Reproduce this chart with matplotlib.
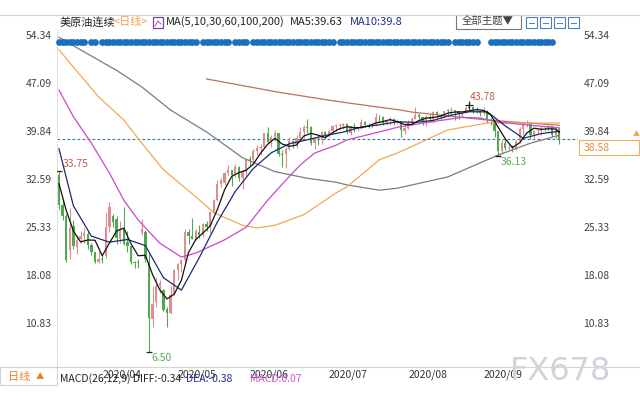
import numpy as np
import matplotlib.pyplot as plt
import matplotlib.transforms as mtransforms
from matplotlib.patches import Rectangle
from matplotlib.lines import Line2D

plt.rcParams['font.family'] = ['Noto Sans CJK SC', 'DejaVu Sans']

# daily candles, 2020/03/16 .. 2020/10/01 (one entry per trading day)
opens = [33.2, 28.6, 27.0, 21.9, 25.5, 22.3, 23.6, 24.0, 24.3, 22.6,
         21.5, 20.1, 20.5, 20.9, 25.3, 27.0, 26.5, 23.6, 25.1, 23.0,
         22.4, 20.1, 19.9, 24.5, 24.6, 20.0, 11.5, 14.0, 16.5, 15.8,
         12.9, 12.4, 15.1, 18.8, 19.7, 20.4, 24.6, 24.0, 23.5, 24.6,
         24.2, 25.8, 25.3, 27.6, 29.4, 31.9, 32.0, 33.5, 33.9, 33.3,
         34.4, 32.8, 33.7, 35.5, 35.4, 36.8, 37.3, 37.4, 39.6, 38.2,
         38.9, 39.6, 36.3, 36.3, 37.1, 38.4, 37.9, 38.8, 39.7, 40.5,
         40.4, 38.0, 38.7, 38.5, 39.7, 39.3, 39.8, 40.6, 40.6, 40.6,
         40.9, 39.6, 40.5, 40.1, 40.3, 41.2, 40.7, 40.6, 40.8, 42.0,
         41.9, 41.1, 41.3, 41.6, 41.0, 41.3, 39.9, 40.3, 41.0, 41.7,
         42.2, 42.0, 41.2, 41.9, 41.6, 42.7, 42.2, 42.0, 42.9, 42.9,
         42.9, 42.8, 42.3, 42.6, 43.4, 43.4, 43.0, 42.9, 42.6, 42.8,
         41.5, 41.4, 39.8, 36.8, 38.1, 37.3, 37.3, 37.3, 38.3, 40.2,
         41.0, 41.1, 39.3, 39.8, 39.9, 40.3, 40.3, 40.6, 39.3, 40.2]
highs = [33.75, 29.4, 27.3, 28.2, 26.4, 24.1, 24.8, 25.2, 24.7, 22.9,
         21.6, 21.7, 21.1, 27.4, 29.1, 27.3, 27.0, 26.3, 28.4, 24.7,
         22.5, 20.2, 20.5, 26.6, 24.9, 21.3, 16.5, 17.6, 17.4, 16.0,
         13.3, 16.4, 19.0, 19.9, 20.5, 25.0, 25.0, 26.7, 25.0, 25.7,
         26.0, 26.3, 27.6, 29.5, 32.5, 32.7, 33.6, 34.7, 34.0, 34.8,
         34.5, 34.0, 35.6, 36.0, 37.1, 37.8, 37.9, 39.6, 40.4, 39.2,
         40.0, 39.6, 37.0, 37.5, 38.9, 38.5, 39.3, 40.4, 40.8, 41.6,
         40.6, 38.9, 39.1, 39.8, 39.9, 40.0, 40.8, 40.9, 41.0, 41.0,
         41.0, 40.6, 41.0, 40.5, 41.6, 41.3, 41.0, 41.0, 42.5, 42.2,
         42.1, 41.5, 41.9, 41.8, 41.6, 41.4, 40.7, 41.5, 41.9, 43.5,
         42.5, 42.0, 42.2, 42.4, 42.8, 42.9, 42.4, 42.9, 43.2, 43.4,
         43.0, 42.9, 42.9, 43.6, 43.78, 43.6, 43.4, 43.0, 43.4, 43.0,
         41.8, 41.6, 39.9, 38.5, 38.6, 37.9, 37.7, 38.5, 40.5, 41.2,
         41.5, 41.2, 40.0, 40.2, 40.6, 40.4, 40.8, 40.6, 40.5, 40.4]
lows = [28.0, 26.4, 20.1, 20.5, 22.0, 21.3, 22.9, 22.9, 22.0, 21.1,
        19.9, 19.9, 19.9, 20.6, 24.6, 25.3, 22.8, 22.9, 22.6, 21.6,
        19.8, 19.2, 19.2, 24.1, 20.0, 6.50, 10.3, 13.3, 15.3, 12.7,
        10.3, 12.2, 15.0, 17.3, 18.6, 20.1, 22.8, 23.5, 23.3, 23.7,
        23.8, 24.8, 24.4, 27.4, 29.3, 31.4, 31.7, 33.2, 31.5, 32.9,
        32.3, 31.1, 33.2, 34.5, 35.0, 36.2, 36.2, 37.2, 38.0, 37.4,
        38.3, 36.0, 34.4, 34.2, 37.0, 37.2, 37.3, 38.5, 38.8, 39.6,
        37.8, 37.1, 37.7, 37.9, 38.7, 38.9, 39.6, 39.9, 40.0, 40.2,
        39.4, 39.3, 39.7, 39.8, 40.2, 40.5, 40.3, 40.3, 40.6, 41.1,
        40.8, 40.7, 40.8, 40.8, 40.9, 39.0, 39.4, 40.2, 40.8, 41.6,
        41.7, 40.8, 40.6, 41.2, 41.0, 41.8, 41.6, 41.8, 42.3, 42.3,
        41.5, 41.6, 42.0, 42.5, 42.8, 42.5, 42.6, 42.1, 42.3, 41.0,
        40.8, 39.0, 36.13, 36.4, 37.0, 36.9, 36.7, 36.9, 38.0, 39.3,
        40.4, 38.6, 38.5, 39.4, 39.3, 39.9, 39.9, 38.9, 38.6, 37.9]
closes = [28.70, 26.95, 20.37, 25.22, 22.43, 23.36, 24.01, 24.49, 22.60, 21.51,
          20.09, 20.48, 20.31, 25.32, 28.34, 26.08, 23.63, 25.09, 22.76, 22.41,
          20.11, 19.87, 19.87, 25.03, 20.43, 11.57, 13.78, 16.50, 16.94, 12.78,
          12.34, 15.06, 18.84, 19.78, 20.39, 24.56, 23.99, 23.55, 24.74, 24.14,
          25.78, 25.29, 27.56, 29.43, 31.82, 32.50, 33.49, 33.92, 33.25, 34.35,
          32.81, 33.71, 35.49, 35.44, 36.81, 37.29, 37.41, 39.55, 38.19, 38.94,
          39.60, 36.34, 36.26, 37.12, 38.38, 37.96, 38.84, 39.75, 40.46, 40.37,
          38.01, 38.72, 38.49, 39.70, 39.27, 39.82, 40.65, 40.63, 40.62, 40.90,
          39.62, 40.55, 40.10, 40.29, 41.20, 40.75, 40.59, 40.81, 41.96, 41.90,
          41.07, 41.29, 41.60, 41.04, 41.27, 39.92, 40.27, 41.01, 41.70, 42.19,
          41.95, 41.22, 41.94, 41.61, 42.67, 42.24, 42.01, 42.89, 42.89, 42.93,
          42.82, 42.34, 42.62, 43.35, 43.39, 43.04, 42.97, 42.61, 42.76, 41.51,
          41.37, 39.77, 36.76, 38.05, 37.30, 37.33, 37.26, 38.28, 40.16, 40.97,
          41.11, 39.31, 39.80, 39.93, 40.31, 40.25, 40.60, 39.29, 40.22, 38.58]

month_idx = [12, 33, 53, 75, 97, 118]
month_labels = ['2020/04', '2020/05', '2020/06', '2020/07', '2020/08', '2020/09']

# moving averages (candle index, price)
ma5_idx = list(range(0, 140, 2)) + [139]
ma5_val = [31.85, 27.85, 24.73, 23.08, 23.38, 23.34, 21.0, 22.91, 24.74, 25.18,
           22.8, 21.0, 21.06, 18.14, 15.84, 14.47, 15.19, 17.28, 21.51, 23.45,
           24.44, 25.5, 27.98, 30.96, 33.0, 33.56, 33.92, 34.85, 36.49, 37.85,
           38.74, 37.87, 37.54, 37.71, 39.08, 39.49, 39.21, 38.84, 39.59, 40.2,
           40.48, 40.36, 40.35, 40.59, 41.06, 41.27, 41.56, 41.25, 40.82, 40.83,
           41.42, 41.8, 41.88, 42.09, 42.54, 42.71, 42.72, 42.9, 43.07, 42.95,
           42.24, 40.43, 38.65, 37.34, 38.07, 39.56, 40.27, 40.09, 40.18, 40.13,
           39.63]
ma10_idx = [0, 4, 9, 14, 19, 24, 29, 34, 39, 44, 49, 54, 59, 64, 69, 74, 79,
            84, 89, 94, 99, 104, 109, 114, 119, 124, 129, 134, 139]
ma10_val = [37.15, 28.54, 23.96, 23.05, 23.45, 22.53, 17.69, 15.80, 20.74, 26.09,
            30.74, 34.18, 36.56, 37.91, 38.51, 39.16, 39.68, 40.44, 40.78, 41.23,
            41.14, 41.45, 42.24, 42.75, 42.74, 40.61, 38.73, 39.45, 39.8]
ma30_idx = [0, 4, 9, 14, 18, 22, 28, 34, 38, 46, 52, 58, 63, 67, 71, 77, 80,
            89, 94, 103, 112, 117, 122, 131, 139]
ma30_val = [46.0, 42.0, 38.0, 33.5, 29.4, 26.4, 22.9, 20.8, 21.4, 23.4, 25.3,
            29.4, 32.4, 34.7, 36.5, 37.7, 38.5, 39.7, 40.4, 41.2, 41.9, 41.8,
            41.2, 40.7, 40.3]
ma60_idx = [0, 4, 11, 18, 23, 29, 38, 43, 51, 55, 60, 68, 77, 80, 89, 94, 108, 119, 139]
ma60_val = [52.1, 49.5, 45.0, 41.5, 38.0, 34.0, 29.9, 27.5, 25.6, 25.2, 25.6,
            27.2, 30.5, 31.4, 35.5, 36.5, 40.0, 41.05, 41.05]
ma100_idx = [0, 6, 16, 23, 31, 41, 51, 60, 69, 77, 80, 89, 94, 108, 122, 131, 139]
ma100_val = [54.0, 52.1, 49.0, 46.5, 43.0, 39.7, 35.8, 33.7, 32.7, 32.1, 31.7,
             30.9, 31.2, 32.9, 36.2, 38.0, 39.2]
ma200_idx = [41, 61, 75, 80, 95, 98, 119, 139]
ma200_val = [47.7, 45.7, 44.5, 44.1, 43.0, 42.7, 41.5, 40.7]

# days carrying a news flag (blue dots along the top)
no_flag = [8, 11, 39, 48, 53, 77, 109, 117, 118, 119]
flag_idx = [i for i in range(138) if i not in no_flag]

yticks = [10.83, 18.08, 25.33, 32.59, 39.84, 47.09, 54.34]
last_price = 38.58

W, H = 640, 400


def px(x, y):
    return x / W, 1 - y / H


fig = plt.figure(figsize=(6.4, 4), dpi=100)
fig.patch.set_facecolor('white')
ax = fig.add_axes([57 / W, 1 - 366 / H, 521 / W, 336 / H])
ax.set_xlim(-0.56, 144.2)
ax.set_ylim(4.34, 55.10)

# candles
idx = np.arange(len(closes))
o = np.array(opens)
c = np.array(closes)
h = np.array(highs)
l = np.array(lows)
col = np.where(c >= o, '#dc8f8f', '#52a852')
ax.vlines(idx, l, h, colors=col, lw=0.8, zorder=2)
ax.bar(idx, np.maximum(np.abs(c - o), 0.12), bottom=np.minimum(o, c),
       width=0.62, color=col, lw=0, zorder=2)

# moving averages
ax.plot(ma200_idx, ma200_val, color='#c07060', lw=0.9, zorder=3)
ax.plot(ma100_idx, ma100_val, color='#7c7c7c', lw=0.9, zorder=3)
ax.plot(ma60_idx, ma60_val, color='#eeaa55', lw=0.9, zorder=3)
ax.plot(ma30_idx, ma30_val, color='#cc48cc', lw=0.9, zorder=3)
ax.plot(ma10_idx, ma10_val, color='#1d2a70', lw=0.9, zorder=4)
ax.plot(ma5_idx, ma5_val, color='#111111', lw=0.9, zorder=4)

ax.axhline(last_price, color='#2f7aa8', lw=0.8, ls=(0, (2.5, 2)), zorder=1)

# extreme markers and labels
hi_i, lo_i = 114, 25
ax.plot([0], [highs[0]], marker='_', color='#333', ms=5, zorder=5)
ax.plot([hi_i], [highs[hi_i]], marker='+', color='#222', ms=6, mew=0.9, zorder=5)
ax.plot([lo_i], [lows[lo_i]], marker='_', color='#222', ms=5, mew=0.9, zorder=5)
ax.plot([122], [lows[122]], marker='_', color='#222', ms=4, zorder=5)
ax.text(1.1, 34.9, '33.75', color='#c0614f', fontsize=7.5, ha='left', va='center')
ax.text(114.2, 45.0, '43.78', color='#c0614f', fontsize=7.5, ha='left', va='center')
ax.text(122.6, 35.2, '36.13', color='#5aaa5a', fontsize=7.5, ha='left', va='center')
ax.text(25.8, 5.5, '6.50', color='#5aaa5a', fontsize=7.5, ha='left', va='center')

# news flags
trans = mtransforms.blended_transform_factory(ax.transData, ax.transAxes)
ax.scatter(flag_idx, [0.964] * len(flag_idx), s=24, color='#1c6fc0',
           transform=trans, clip_on=False, zorder=6, lw=0)

# axes decoration
for s in ax.spines.values():
    s.set_visible(False)
ax.spines['left'].set_visible(True)
ax.spines['left'].set_color('#d8d8d8')
ax.spines['left'].set_linestyle(':')
ax.set_yticks(yticks)
ax.set_yticklabels(['%.2f' % v for v in yticks])
ax.tick_params(axis='y', length=0, labelleft=True, labelright=True, pad=4,
               labelsize=7.5, labelcolor='#444444')
ax.set_xticks(month_idx)
ax.set_xticklabels(month_labels)
for lbl in ax.get_xticklabels():
    lbl.set_horizontalalignment('left')
ax.tick_params(axis='x', length=0, pad=2.5, labelsize=7.5, labelcolor='#333333')

# frame lines
fig.add_artist(Line2D([0, 1], [1 - 15 / H] * 2, color='#d4d4d4', lw=0.8))
fig.add_artist(Line2D([0, 1], [1 - 367 / H] * 2, color='#d4d4d4', lw=0.8))
fig.add_artist(Rectangle(px(0, 385), 57 / W, 18 / H, fill=False, ec='#d4d4d4', lw=0.8))

# header
fig.text(*px(60, 22), '美原油连续', fontsize=8, color='#222222', va='center')
fig.text(*px(114, 22), '<日线>', fontsize=8, color='#f0a050', va='center')
fig.add_artist(Rectangle(px(153, 28), 10 / W, 11 / H, fill=False, ec='#6b4aa0', lw=0.9))
fig.add_artist(Line2D([155 / W, 158 / W, 161 / W], [1 - 26 / H, 1 - 21 / H, 1 - 24 / H],
                      color='#c04a8a', lw=0.7))
fig.text(*px(166, 22), 'MA(5,10,30,60,100,200)', fontsize=8, color='#222222', va='center')
fig.text(*px(290, 22), 'MA5:39.63', fontsize=8, color='#222222', va='center')
fig.text(*px(350, 22), 'MA10:39.8', fontsize=8, color='#1f2d8c', va='center')
fig.add_artist(Rectangle(px(456, 29), 65 / W, 14 / H, fill=False, ec='#777777', lw=0.8))
fig.text(*px(488, 22), '全部主题▼', fontsize=7.5, color='#444444', va='center', ha='center')
for x0 in [526, 540, 554, 568]:
    fig.add_artist(Rectangle(px(x0, 28), 11 / W, 11 / H, fill=False, ec='#4a7fc0', lw=0.8))
    fig.add_artist(Line2D([(x0 + 3) / W, (x0 + 8) / W], [1 - 22.5 / H] * 2, color='#4a7fc0', lw=0.7))

# last price box
fig.add_artist(Rectangle(px(579, 155), 60 / W, 15 / H, fill=False, ec='#f0b060', lw=0.8))
fig.text(*px(584, 148), '38.58', fontsize=7.5, color='#e09040', va='center')
fig.text(*px(636, 134), '▲', fontsize=5, color='#f0a040', va='center', ha='center')

# bottom strip
fig.text(*px(8, 377), '日线', fontsize=8, color='#e8832a', va='center')
fig.text(*px(36, 377), '▲', fontsize=6, color='#e8832a', va='center')
fig.text(*px(60, 379), 'MACD(26,12,9) DIFF:-0.34', fontsize=7.5, color='#222222', va='center')
fig.text(*px(186, 379), 'DEA:-0.38', fontsize=7.5, color='#1f2d8c', va='center')
fig.text(*px(250, 379), 'MACD:0.07', fontsize=7.5, color='#d055d0', va='center')
fig.text(*px(510, 372), 'FX678', fontsize=23, color='#cfd3db', va='center',
         family='DejaVu Sans', zorder=0)

fig.savefig('out.png', dpi=100)
